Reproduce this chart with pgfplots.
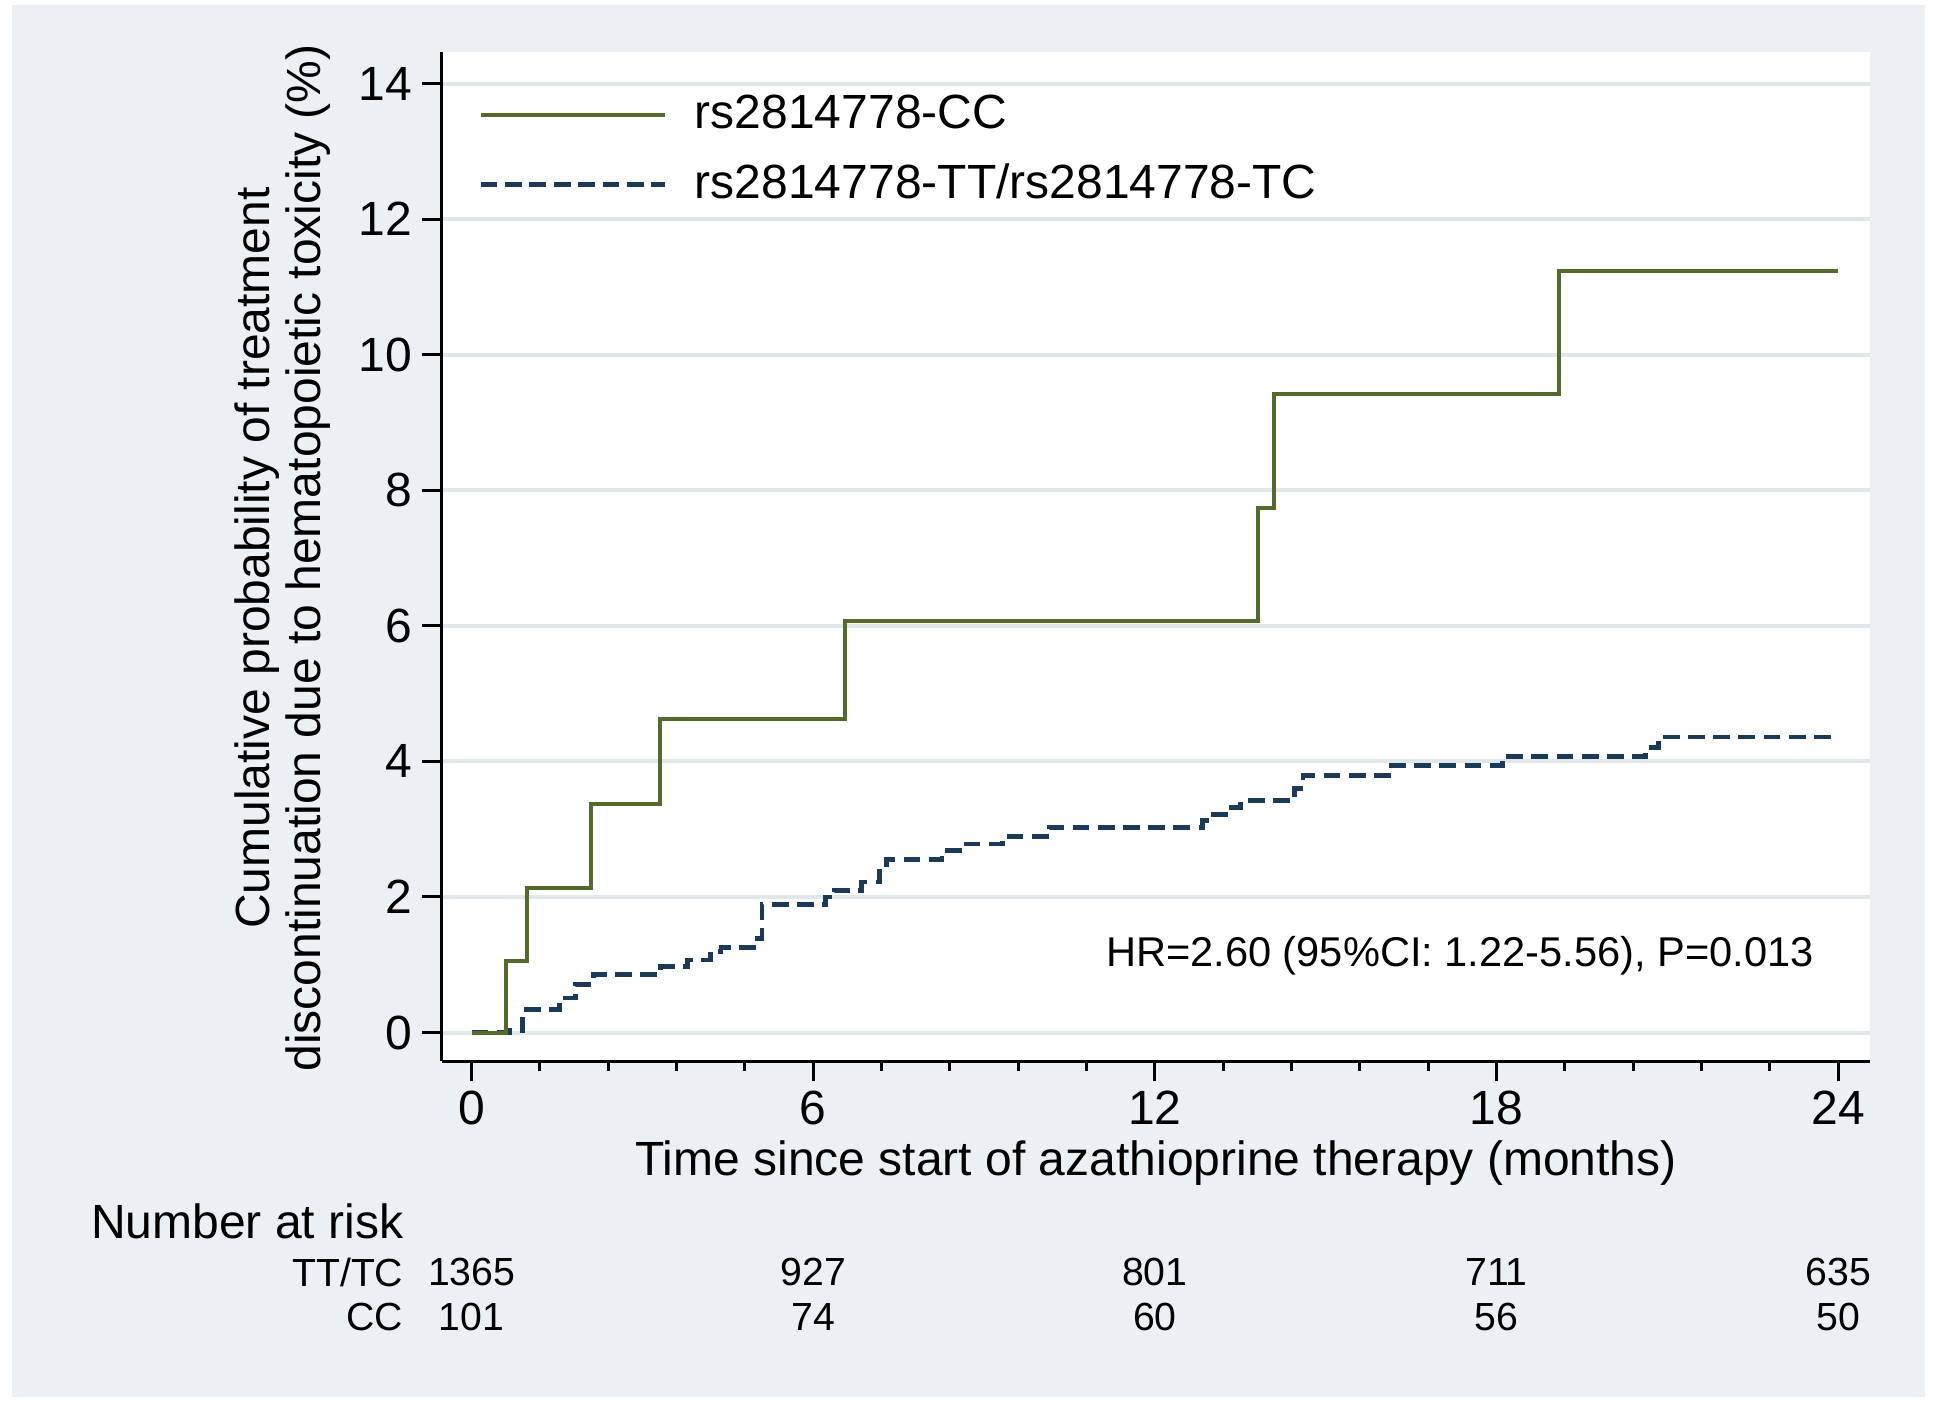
\documentclass[border=0pt]{standalone}
\usepackage{fontspec}
\setmainfont{Liberation Sans}
\usepackage{pgfplots}
\pgfplotsset{compat=1.18}
\definecolor{panel}{RGB}{234,240,243}
\definecolor{gridc}{RGB}{223,231,234}
\definecolor{kmgreen}{RGB}{82,106,42}
\definecolor{kmblue}{RGB}{26,58,90}
\newcommand\fs[1]{\fontsize{#1}{#1}\selectfont}

\begin{document}
\begin{tikzpicture}
\useasboundingbox (0,0) rectangle (484.5pt,351.5pt);
\fill[white] (0,0) rectangle (484.5pt,351.5pt);
\fill[panel] (3pt,2.25pt) rectangle (481.25pt,350.25pt);
\begin{axis}[
  at={(110.5pt,86.25pt)}, anchor=south west,
  scale only axis, width=357pt, height=252.25pt,
  xmin=-0.52, xmax=24.56, ymin=-0.42, ymax=14.465,
  axis background/.style={fill=white},
  axis x line*=bottom, axis y line*=left,
  axis line style={-, black, line width=0.75pt},
  xtick={0,6,12,18,24}, minor x tick num=4,
  ytick={0,2,4,6,8,10,12,14},
  tick align=outside,
  major tick length=5pt, minor tick length=2.5pt,
  tick style={black, line width=0.75pt},
  ymajorgrids, grid style={gridc, line width=1pt},
  /pgf/number format/assume math mode=true,
  ticklabel style={font=\fs{12}},
  every tick label/.append style={inner sep=2.25pt},
  clip=false,
  every axis x label/.style={at={(axis description cs:0.5,-0.101)}, anchor=center, font=\fs{12}},
  every axis y label/.style={at={(axis description cs:-0.1114,0.4985)}, rotate=90, anchor=center, align=center, font=\fontsize{12}{12.8}\selectfont},
  xlabel={Time since start of azathioprine therapy (months)},
  ylabel={Cumulative probability of treatment\\discontinuation due to hematopoietic toxicity (\%)},
  legend style={at={(axis cs:0.10,13.02)}, anchor=west, draw=none, fill=none, inner sep=0pt,
    row sep=3.2pt, font=\fs{12}, cells={anchor=west},
    /tikz/every odd column/.append style={column sep=5pt}},
  legend image code/.code={\draw[#1] (0pt,0pt) -- (46pt,0pt);},
]
\addplot[const plot, no marks, kmblue, line width=1.2pt, dash pattern=on 4.2pt off 2.1pt, forget plot] coordinates {
(0,0) (0.66,0.03) (0.90,0.34) (1.55,0.51) (1.83,0.71) (2.14,0.86) (3.32,0.97) (3.79,1.07)
(4.2,1.20) (4.38,1.26) (4.96,1.39) (5.10,1.89) (6.22,2.00) (6.38,2.10) (6.85,2.22)
(7.16,2.37) (7.28,2.55) (8.26,2.68) (8.57,2.78) (9.32,2.89) (10.15,3.03) (12.83,3.13)
(12.98,3.22) (13.3,3.32) (13.5,3.42) (14.45,3.60) (14.6,3.79) (16.1,3.94) (18.1,4.07)
(20.62,4.20) (20.85,4.36) (24,4.36)};
\addplot[const plot, no marks, kmgreen, line width=1pt] coordinates {
(0,0) (0.60,1.05) (0.98,2.13) (2.10,3.37) (3.31,4.63) (6.55,6.07) (13.81,7.74) (14.09,9.42) (19.09,11.23) (24,11.23)};
\addlegendentry{rs2814778-CC}
\addlegendimage{kmblue, line width=1.2pt, dash pattern=on 4.2pt off 1.9pt}
\addlegendentry{rs2814778-TT/rs2814778-TC}

\node[anchor=west, inner sep=0pt, font=\fs{10.4}] at (axis cs:11.13,1.14) {HR=2.60 (95\%CI: 1.22-5.56), P=0.013};

\node[anchor=east, inner sep=0pt, font=\fs{12}] at (axis cs:-1.186,-2.78) {Number at risk};
\node[anchor=east, inner sep=0pt, font=\fs{9.8}] at (axis cs:-1.186,-3.533) {TT/TC};
\node[anchor=east, inner sep=0pt, font=\fs{9.8}] at (axis cs:-1.186,-4.197) {CC};
\node[inner sep=0pt, font=\fs{9.8}] at (axis cs:0,-3.533) {1365};
\node[inner sep=0pt, font=\fs{9.8}] at (axis cs:6,-3.533) {927};
\node[inner sep=0pt, font=\fs{9.8}] at (axis cs:12,-3.533) {801};
\node[inner sep=0pt, font=\fs{9.8}] at (axis cs:18,-3.533) {711};
\node[inner sep=0pt, font=\fs{9.8}] at (axis cs:24,-3.533) {635};
\node[inner sep=0pt, font=\fs{9.8}] at (axis cs:0,-4.197) {101};
\node[inner sep=0pt, font=\fs{9.8}] at (axis cs:6,-4.197) {74};
\node[inner sep=0pt, font=\fs{9.8}] at (axis cs:12,-4.197) {60};
\node[inner sep=0pt, font=\fs{9.8}] at (axis cs:18,-4.197) {56};
\node[inner sep=0pt, font=\fs{9.8}] at (axis cs:24,-4.197) {50};
\end{axis}
\end{tikzpicture}
\end{document}
